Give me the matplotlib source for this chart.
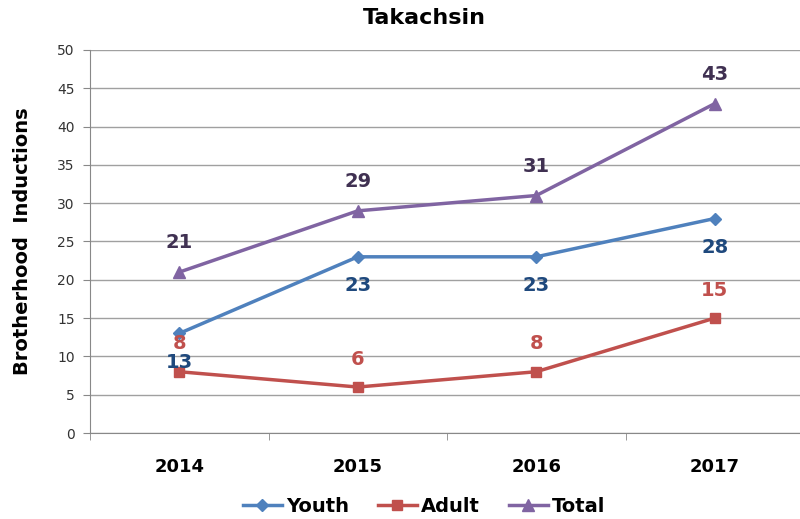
import numpy as np
import matplotlib.pyplot as plt

# data
years = ['2014', '2015', '2016', '2017']
youth = [13, 23, 23, 28]
adult = [8, 6, 8, 15]
total = [21, 29, 31, 43]

fig = plt.figure(figsize=(8, 5.19), dpi=100)
ax = fig.add_axes([0.1125, 0.1657, 0.8925, 0.738])

x = np.arange(len(years))
ax.plot(x, youth, color='#4F81BD', lw=2.5, marker='D', ms=6, label='Youth', zorder=3)
ax.plot(x, adult, color='#C0504D', lw=2.5, marker='s', ms=7, label='Adult', zorder=3)
ax.plot(x, total, color='#8064A2', lw=2.5, marker='^', ms=8, label='Total', zorder=3)

# value labels
for xi, v in zip(x, youth):
    ax.annotate(str(v), (xi, v), xytext=(0, -21), textcoords='offset points',
                ha='center', va='center', fontsize=14, fontweight='bold', color='#1F497D')
for xi, v in zip(x, adult):
    ax.annotate(str(v), (xi, v), xytext=(0, 20), textcoords='offset points',
                ha='center', va='center', fontsize=14, fontweight='bold', color='#C0504D')
for xi, v in zip(x, total):
    ax.annotate(str(v), (xi, v), xytext=(0, 21), textcoords='offset points',
                ha='center', va='center', fontsize=14, fontweight='bold', color='#403152')

ax.set_xlim(-0.5, 3.5)
ax.set_ylim(0, 50)
ax.set_yticks(range(0, 51, 5))
ax.set_xticks(x)
ax.set_xticklabels(years, fontsize=13, fontweight='bold')
ax.set_xticks(np.arange(-0.5, 4, 1), minor=True)
ax.tick_params(axis='x', which='major', length=0, pad=18)
ax.tick_params(axis='x', which='minor', length=5, color='#888888')
ax.tick_params(axis='y', length=5, color='#888888', labelsize=10, labelcolor='#333333', pad=6)
ax.grid(axis='y', color='#A0A0A0', lw=1)
ax.set_axisbelow(True)
for s in ['top', 'right']:
    ax.spines[s].set_visible(False)
for s in ['left', 'bottom']:
    ax.spines[s].set_color('#888888')

ax.set_ylabel('Brotherhood  Inductions', fontsize=14, fontweight='bold', labelpad=18)
fig.text(0.53, 0.965, 'Takachsin', ha='center', va='center', fontsize=16, fontweight='bold')

leg = fig.legend(loc='center', bbox_to_anchor=(0.53, 0.025), ncol=3, frameon=False,
                 prop={'size': 14, 'weight': 'bold'}, handlelength=2.0,
                 handletextpad=0.2, columnspacing=1.5)

fig.savefig('out.png', dpi=100)
